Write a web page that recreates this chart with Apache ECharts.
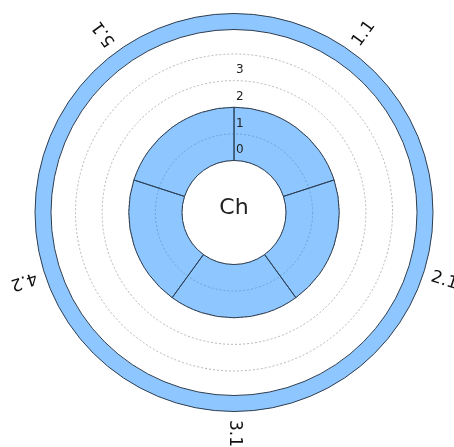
<!DOCTYPE html>
<html><head><meta charset="utf-8">
<script src="https://cdn.jsdelivr.net/npm/echarts@6/dist/echarts.min.js"></script>
<style>html,body{margin:0;padding:0;background:#fff}#c{width:454px;height:447px}</style>
</head><body><div id="c"></div>
<script>
const categories = ['1.1', '2.1', '3.1', '4.2', '5.1'];
const barValues = [2, 2, 2, 2, 2];
const radiusLabels = ['0', '1', '2', '3'];
const centerLabel = 'Ch';

const CENTER = [234, 212.5];
const FILL = 'rgba(30,144,255,0.5)';
const EDGE = '#2e3d4f';

const chart = echarts.init(document.getElementById('c'), null, { renderer: 'canvas' });
chart.setOption({
  animation: false,
  textStyle: { fontFamily: 'DejaVu Sans' },
  polar: [
    { center: CENTER, radius: [52, 158.5] },
    { center: CENTER, radius: [49, 155.5] }
  ],
  angleAxis: [
    { polarIndex: 0, type: 'category', data: categories, startAngle: 90, clockwise: true,
      axisLine: { show: false }, axisTick: { show: false }, axisLabel: { show: false }, splitLine: { show: false } },
    { polarIndex: 1, type: 'category', data: categories, startAngle: 90, show: false }
  ],
  radiusAxis: [
    { polarIndex: 0, type: 'value', min: 0, max: 4, interval: 1,
      axisLine: { show: false }, axisTick: { show: false }, axisLabel: { show: false },
      splitLine: { show: true, lineStyle: { color: '#b5b5b5', width: 1, type: [2, 2] } } },
    { polarIndex: 1, type: 'category', data: radiusLabels, z: 20,
      axisLine: { show: false }, axisTick: { show: false }, splitLine: { show: false },
      axisLabel: { color: '#222', fontSize: 12, fontFamily: 'DejaVu Sans', margin: -2, align: 'left' } }
  ],
  series: [
    { type: 'bar', coordinateSystem: 'polar', polarIndex: 0, data: barValues,
      barCategoryGap: '0%', silent: true,
      itemStyle: { color: FILL, borderColor: EDGE, borderWidth: 1 } },
    { type: 'pie', center: CENTER, radius: [183, 199], startAngle: 90, silent: true,
      data: [{ name: centerLabel, value: 1 }],
      itemStyle: { color: FILL, borderColor: EDGE, borderWidth: 1 },
      label: { show: true, position: 'center', formatter: '{b}', fontSize: 22, color: '#222',
               fontFamily: 'DejaVu Sans', offset: [0, -4] },
      labelLine: { show: false } },
    { type: 'pie', center: CENTER, radius: [206, 230], startAngle: 90, clockwise: true, silent: true,
      data: categories.map((c, i) => ({ name: c, value: 1, label: { rotate: 90 - 72 * (i + 0.5) } })),
      itemStyle: { color: 'rgba(0,0,0,0)', borderWidth: 0 },
      label: { show: true, position: 'inside', formatter: '{b}', fontSize: 17, color: '#111',
               fontFamily: 'DejaVu Sans' },
      labelLine: { show: false } }
  ]
});
</script></body></html>
